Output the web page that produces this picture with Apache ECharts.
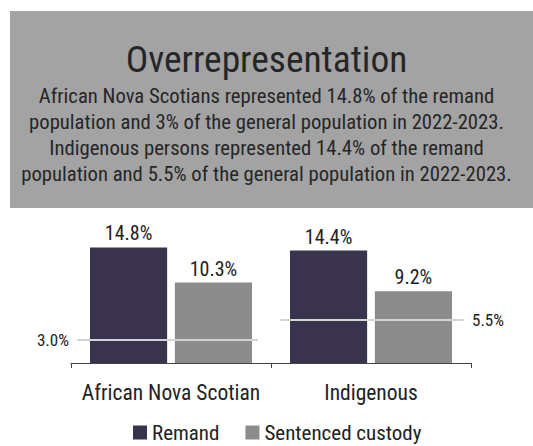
<!DOCTYPE html>
<html><head><meta charset="utf-8">
<script src="https://cdn.jsdelivr.net/npm/echarts@6/dist/echarts.min.js"></script>
<style>html,body{margin:0;padding:0;background:#fff}#c{width:533px;height:446px}</style>
</head><body><div id="c"></div>
<script>
const categories = ['African Nova Scotian', 'Indigenous'];
const seriesNames = ['Remand', 'Sentenced custody'];
const remand = [14.8, 14.4];
const sentenced = [10.3, 9.2];
const generalPopulation = [3.0, 5.5];
const titleText = 'Overrepresentation';
const bodyLines = [
  'African Nova Scotians represented 14.8% of the remand',
  'population and 3% of the general population in 2022-2023.',
  'Indigenous persons represented 14.4% of the remand',
  'population and 5.5% of the general population in 2022-2023.'
];
const FONT = "'Liberation Sans Narrow', 'Roboto Condensed', 'DejaVu Sans Condensed', Roboto, sans-serif";

const chart = echarts.init(document.getElementById('c'), null, {renderer: 'svg'});
const pct = v => v.toFixed(1) + '%';
chart.setOption({
  animation: false,
  backgroundColor: '#fff',
  graphic: [{type: 'rect', z: -10, shape: {x: 10, y: 11, width: 523, height: 197}, style: {fill: '#a3a3a3'}}],
  title: {
    text: titleText,
    subtext: bodyLines.join('\n'),
    left: 'center', top: 34, itemGap: 4,
    textStyle: {fontFamily: FONT, fontSize: 37.5, fontWeight: 'normal', color: '#262626', lineHeight: 40},
    subtextStyle: {fontFamily: FONT, fontSize: 20.7, color: '#262626', lineHeight: 26, align: 'center'}
  },
  legend: {
    data: seriesNames, top: 417, left: 128, icon: 'rect', itemWidth: 14, itemHeight: 14, itemGap: 26,
    textStyle: {fontFamily: FONT, fontSize: 21, color: '#222'}
  },
  grid: {left: 71, right: 62, top: 238, bottom: 83},
  xAxis: {
    type: 'category', data: categories,
    axisLine: {lineStyle: {color: '#444', width: 1}},
    axisTick: {show: true, interval: 0, length: 5, lineStyle: {color: '#444'}},
    axisLabel: {interval: 0, fontFamily: FONT, fontSize: 21.5, color: '#222', margin: 18}
  },
  yAxis: {type: 'value', min: 0, max: 16, show: false, splitLine: {show: false}},
  series: [
    {
      name: seriesNames[0], type: 'bar', data: remand, barCategoryGap: '19%', barGap: '10%',
      itemStyle: {color: '#39334d'},
      label: {show: true, position: 'top', distance: 4, formatter: p => pct(p.value), fontFamily: FONT, fontSize: 20, color: '#222'}
    },
    {
      name: seriesNames[1], type: 'bar', data: sentenced,
      itemStyle: {color: '#8c8c8c'},
      label: {show: true, position: 'top', distance: 4, formatter: p => pct(p.value), fontFamily: FONT, fontSize: 20, color: '#222'},
      markLine: {
        silent: true, symbol: ['none', 'none'], z: 10,
        lineStyle: {color: '#d4d4d4', width: 2, type: 'solid'},
        label: {fontFamily: FONT, fontSize: 17, color: '#222'},
        data: [
          [{x: 77, yAxis: generalPopulation[0], label: {position: 'start', formatter: pct(generalPopulation[0]), distance: 8}}, {x: 258, yAxis: generalPopulation[0]}],
          [{x: 280, yAxis: generalPopulation[1], label: {position: 'end', formatter: pct(generalPopulation[1]), distance: 8}}, {x: 464, yAxis: generalPopulation[1]}]
        ]
      }
    }
  ]
});
</script></body></html>
